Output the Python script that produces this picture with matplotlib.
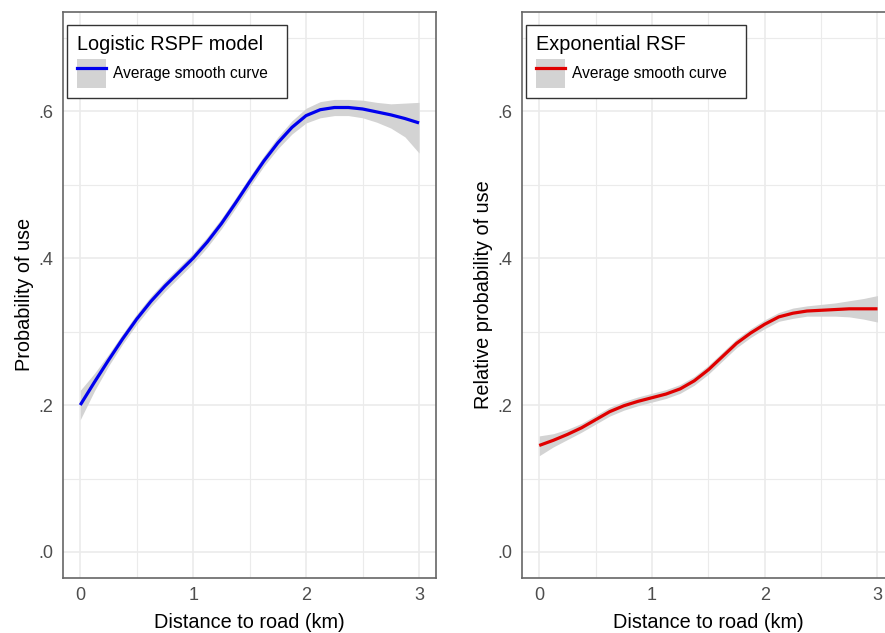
import matplotlib
matplotlib.use("Agg")
import matplotlib.pyplot as plt
from matplotlib.patches import Patch
from matplotlib.lines import Line2D

plt.rcParams['font.family'] = ['Liberation Sans', 'DejaVu Sans']

# ---- data ----
dist = [0.0, 0.125, 0.25, 0.375, 0.5, 0.625, 0.75, 0.875, 1.0, 1.125, 1.25, 1.375,
        1.5, 1.625, 1.75, 1.875, 2.0, 2.125, 2.25, 2.375, 2.5, 2.625, 2.75, 2.875, 3.0]

rspf_mean = [0.200, 0.231, 0.261, 0.290, 0.317, 0.341, 0.362, 0.381, 0.400, 0.422, 0.447, 0.475,
             0.504, 0.532, 0.557, 0.578, 0.594, 0.602, 0.605, 0.605, 0.603, 0.599, 0.595, 0.590, 0.584]
rspf_low  = [0.180, 0.219, 0.253, 0.283, 0.310, 0.334, 0.355, 0.374, 0.393, 0.415, 0.440, 0.468,
             0.497, 0.525, 0.549, 0.569, 0.584, 0.591, 0.594, 0.594, 0.591, 0.585, 0.577, 0.565, 0.543]
rspf_high = [0.220, 0.243, 0.269, 0.297, 0.324, 0.348, 0.369, 0.388, 0.407, 0.429, 0.454, 0.482,
             0.511, 0.539, 0.565, 0.587, 0.604, 0.613, 0.616, 0.616, 0.615, 0.612, 0.610, 0.611, 0.612]

rsf_mean = [0.145, 0.152, 0.160, 0.169, 0.180, 0.191, 0.199, 0.205, 0.210, 0.215, 0.222, 0.233,
            0.248, 0.266, 0.284, 0.298, 0.310, 0.320, 0.325, 0.328, 0.329, 0.330, 0.331, 0.331, 0.331]
rsf_low  = [0.131, 0.143, 0.153, 0.163, 0.174, 0.185, 0.193, 0.199, 0.204, 0.209, 0.216, 0.227,
            0.242, 0.260, 0.278, 0.292, 0.304, 0.314, 0.318, 0.321, 0.321, 0.321, 0.320, 0.317, 0.313]
rsf_high = [0.158, 0.161, 0.167, 0.175, 0.186, 0.197, 0.205, 0.211, 0.216, 0.221, 0.228, 0.239,
            0.254, 0.272, 0.290, 0.304, 0.316, 0.326, 0.332, 0.335, 0.337, 0.339, 0.342, 0.345, 0.349]

xticks = [0, 1, 2, 3]
yticks = [0.0, 0.2, 0.4, 0.6]
ytick_labels = ['.0', '.2', '.4', '.6']

panels = [
    dict(mean=rspf_mean, low=rspf_low, high=rspf_high, color='#0000EE',
         title='Logistic RSPF model', ylabel='Probability of use'),
    dict(mean=rsf_mean, low=rsf_low, high=rsf_high, color='#E00000',
         title='Exponential RSF', ylabel='Relative probability of use'),
]

fig = plt.figure(figsize=(8.85, 6.33), dpi=100)
W, H = 885, 633
positions = [
    (63.3 / W, (H - 577.7) / H, 372.7 / W, 565.7 / H),
    (522.3 / W, (H - 577.7) / H, 372.1 / W, 565.7 / H),
]

band_color = '#D3D3D3'
grid_color = '#EBEBEB'
text_gray = '#4D4D4D'

for pos, p in zip(positions, panels):
    ax = fig.add_axes(pos)
    ax.set_xlim(-0.15, 3.15)
    ax.set_ylim(-0.035, 0.735)
    ax.set_xticks(xticks)
    ax.set_xticks([0.5, 1.5, 2.5], minor=True)
    ax.set_yticks(yticks)
    ax.set_yticklabels(ytick_labels)
    ax.set_yticks([0.1, 0.3, 0.5, 0.7], minor=True)
    ax.grid(True, which='major', color=grid_color, lw=1.2)
    ax.grid(True, which='minor', color=grid_color, lw=0.8)
    ax.set_axisbelow(True)
    ax.tick_params(which='both', length=0, labelsize=13, labelcolor=text_gray, pad=7)
    for s in ax.spines.values():
        s.set_color('#666666')
        s.set_linewidth(1.2)

    ax.fill_between(dist, p['low'], p['high'], color=band_color, lw=0, zorder=2)
    ax.plot(dist, p['mean'], color=p['color'], lw=2.3, zorder=3, solid_capstyle='butt')

    ax.set_xlabel('Distance to road (km)', fontsize=14.3, color='black', labelpad=6)
    ax.set_ylabel(p['ylabel'], fontsize=14.3, color='black', labelpad=3)

    handle = (Patch(facecolor=band_color, edgecolor='none'),
              Line2D([], [], color=p['color'], lw=2.3))
    leg = ax.legend([handle], ['Average smooth curve'], title=p['title'],
                    loc='upper left', bbox_to_anchor=(0.009, 0.977, 0.592, 0.0),
                    mode='expand', borderaxespad=0,
                    fontsize=11.2, title_fontsize=14.3, frameon=True, fancybox=False,
                    framealpha=1, edgecolor='#333333', handlelength=1.9,
                    handleheight=2.5, handletextpad=0.45, borderpad=0.65,
                    labelspacing=0.3)
    leg.get_frame().set_linewidth(1.0)
    leg._legend_box.align = 'left'

fig.savefig('out.png', dpi=100)
